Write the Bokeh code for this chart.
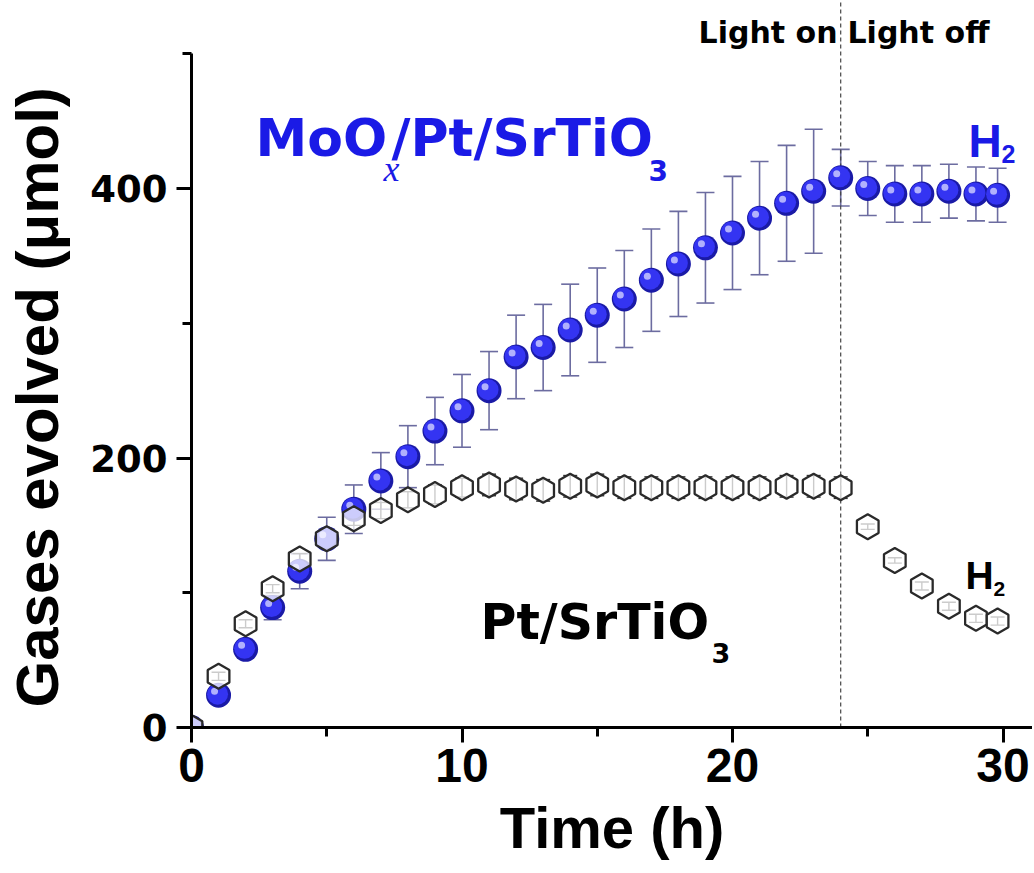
import numpy as np
from bokeh.plotting import figure
from bokeh.models import ColumnDataSource, Whisker, TeeHead, FixedTicker, Range1d
from bokeh.core.properties import value
from bokeh.embed import file_html
from bokeh.resources import INLINE

# ---------------- data ----------------
time_h = [0, 1, 2, 3, 4, 5, 6, 7, 8, 9, 10, 11, 12, 13, 14, 15, 16, 17, 18, 19,
          20, 21, 22, 23, 24, 25, 26, 27, 28, 29, 29.8]
moox_h2 = [0, 24, 58, 89, 116, 140, 162, 183, 201, 220, 235, 250, 275, 282, 295,
           306, 318, 332, 344, 356, 367, 378, 389, 398, 408, 400, 396, 396, 398, 396, 395]
moox_err = [0, 2, 3, 9, 13, 16, 18, 21, 23, 25, 27, 29, 31, 32, 34, 35, 36, 38, 39,
            41, 42, 42, 43, 46, 21, 20, 21, 21, 20, 20, 20]
pt_h2 = [0, 38, 77, 103, 125, 140, 155, 161, 169, 173, 178, 180, 177, 176, 179, 180,
         178, 178, 178, 178, 178, 178, 179, 179, 178, 149, 124, 105, 90, 81, 79]
pt_err = [0, 3, 3, 3, 4, 5, 5, 6, 6, 7, 7, 8, 8, 8, 8, 8, 8, 8, 8, 8, 8, 8, 8, 8, 8,
          2, 2, 3, 3, 3, 3]
x_ticks = [0, 10, 20, 30]
x_minor = [5, 15, 25]
y_ticks = [0, 200, 400]
y_minor = [100, 300, 500]
light_off_t = 24

# ---------------- layout ----------------
W, H = 1032, 871
BL = 191                  # frame left on the page
FH = 727                  # frame bottom on the page (frame top at 0)
BB = H - FH
FW = W - BL
PX_PER_X = 27.05
PX_PER_Y = 1.3475
X_END = FW / PX_PER_X
Y_END = FH / PX_PER_Y


def X(px):
    return (px - BL) / PX_PER_X


def Y(py):
    return (FH - py) / PX_PER_Y


p = figure(width=W, height=H, output_backend="svg", toolbar_location=None,
           x_range=Range1d(0, X_END), y_range=Range1d(0, Y_END),
           min_border_left=BL, min_border_bottom=BB, min_border_top=0,
           min_border_right=0)
p.outline_line_color = None
p.grid.visible = False
p.background_fill_color = "white"

# axes
for ax in (p.xaxis[0], p.yaxis[0]):
    ax.axis_line_width = 3
    ax.axis_line_color = "black"
    ax.major_tick_line_width = 3
    ax.minor_tick_line_width = 3
    ax.major_tick_in = 0
    ax.minor_tick_in = 0
    ax.major_tick_out = 15
    ax.minor_tick_out = 9
    ax.major_label_text_color = "black"
    ax.major_label_text_font_style = "bold"
    ax.axis_label_text_color = "black"
    ax.axis_label_text_font = "Liberation Sans"
    ax.axis_label_text_font_style = "bold"

p.xaxis.ticker = FixedTicker(ticks=x_ticks, minor_ticks=x_minor)
p.yaxis.ticker = FixedTicker(ticks=y_ticks, minor_ticks=y_minor)
p.yaxis.bounds = (0, 500)
p.xaxis.major_label_text_font = "Liberation Sans"
p.xaxis.major_label_text_font_size = "48px"
p.xaxis.major_label_standoff = 6
p.yaxis.major_label_text_font = "DejaVu Sans"
p.yaxis.major_label_text_font_size = "37px"
p.yaxis.major_label_standoff = 9
p.xaxis.axis_label = "Time (h)"
p.xaxis.axis_label_text_font_size = "58px"
p.xaxis.axis_label_standoff = 10
p.yaxis.axis_label = "Gases evolved (μmol)" + "\u00a0" * 4
p.yaxis.axis_label_text_font_size = "60px"
p.yaxis.axis_label_standoff = 16

# light on / off divider
p.line([light_off_t, light_off_t], [0, Y_END], line_color="#444444",
       line_width=1.2, line_dash="4 3")

# MoOx/Pt/SrTiO3 series
t = np.array(time_h, dtype=float)
ym = np.array(moox_h2, dtype=float)
em = np.array(moox_err, dtype=float)
src_m = ColumnDataSource(dict(x=t, y=ym, upper=ym + em, lower=ym - em,
                              xh=t - 4 / PX_PER_X, yh=ym + 4 / PX_PER_Y,
                              xm=t - 1 / PX_PER_X, ym2=ym + 1 / PX_PER_Y))
ecol = "#6c6ca0"
p.add_layout(Whisker(base="x", upper="upper", lower="lower", source=src_m,
                     line_color=ecol, line_width=1.6,
                     upper_head=TeeHead(size=18, line_color=ecol, line_width=1.6),
                     lower_head=TeeHead(size=18, line_color=ecol, line_width=1.6)))
p.scatter("x", "y", source=src_m, size=25, fill_color="#1a1aa6", line_color=None)
p.scatter("xm", "ym2", source=src_m, size=21, fill_color="#3434f2", line_color=None)
p.scatter("xh", "yh", source=src_m, size=7, fill_color="#c8c8ff", fill_alpha=0.85,
          line_color=None)

# Pt/SrTiO3 series
yp = np.array(pt_h2, dtype=float)
ep = np.array(pt_err, dtype=float)
src_p = ColumnDataSource(dict(x=t, y=yp, upper=yp + ep, lower=yp - ep))
kcol = "#333333"
p.add_layout(Whisker(base="x", upper="upper", lower="lower", source=src_p,
                     line_color=kcol, line_width=1.4,
                     upper_head=TeeHead(size=14, line_color=kcol, line_width=1.4),
                     lower_head=TeeHead(size=14, line_color=kcol, line_width=1.4)))
p.scatter("x", "y", source=src_p, marker="hex", size=25, angle=np.pi / 2,
          fill_color="white", fill_alpha=0.75, line_color="#2a2a2a", line_width=2.3)

# annotations
blue = "#1a1ae6"
dj = value("DejaVu Sans")
ls = value("Liberation Sans")


def txt(x, y, s, font, size, color, style="bold", align="left"):
    p.text(x=[x], y=[y], text=[s], text_font=font, text_font_size=value(size),
           text_font_style=value(style), text_color=color, text_align=value(align),
           text_baseline=value("alphabetic"))


txt(X(255), Y(137), "MoO", dj, "52px", blue)
txt(X(383), Y(168), "x", value("Liberation Serif"), "36px", blue, style="italic")
txt(X(391), Y(137), "/Pt/SrTiO", dj, "52px", blue)
txt(X(648), Y(170), "3", dj, "28px", blue)
txt(X(968), Y(140), "H", ls, "46px", blue)
txt(X(1001), Y(153), "2", ls, "25px", blue)

txt(X(480), Y(622), "Pt/SrTiO", dj, "49px", "black")
txt(X(711), Y(652), "3", dj, "27px", "black")
txt(X(965), Y(575), "H", ls, "39px", "black")
txt(X(993), Y(588), "2", ls, "21px", "black")

txt(X(837), Y(32), "Light on", dj, "30px", "black", align="right")
txt(X(847), Y(32), "Light off", dj, "30px", "black")

open("out.html", "w").write(file_html(p, INLINE))
